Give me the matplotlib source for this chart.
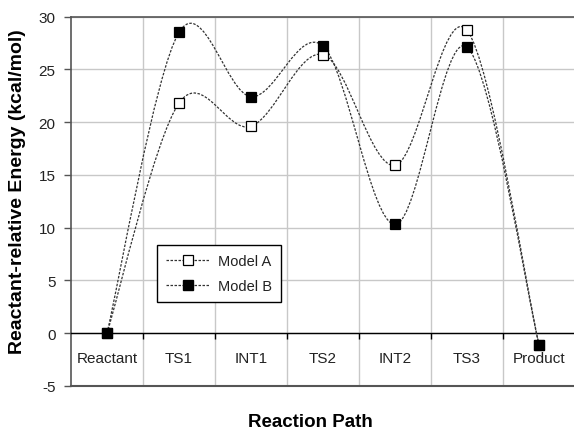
import numpy as np
import matplotlib
matplotlib.use("Agg")
import matplotlib.pyplot as plt
from matplotlib.path import Path
from matplotlib.patches import PathPatch
from matplotlib.lines import Line2D
from matplotlib.ticker import FixedLocator, NullFormatter

plt.rcParams['font.family'] = ['Liberation Sans', 'DejaVu Sans']

# Reaction coordinate and energies (kcal/mol, relative to reactant)
stages = ["Reactant", "TS1", "INT1", "TS2", "INT2", "TS3", "Product"]
model_a = [0.0, 21.8, 19.6, 26.4, 15.9, 28.7, -1.1]
model_b = [0.0, 28.5, 22.4, 27.2, 10.3, 27.1, -1.1]
y_ticks = [-5, 0, 5, 10, 15, 20, 25, 30]

LINE_COLOR = "#333333"
GRID_COLOR = "#c8c8c8"
FRAME_COLOR = "#555555"
TEXT_COLOR = "#222222"


def smooth_path(xs, ys):
    """Cubic Bezier through every point, with Catmull-Rom style tangents."""
    pts = np.column_stack([xs, ys]).astype(float)
    n = len(pts)
    verts = [pts[0]]
    codes = [Path.MOVETO]
    for i in range(n - 1):
        p_prev = pts[i - 1] if i > 0 else pts[i]
        p_next2 = pts[i + 2] if i + 2 < n else pts[i + 1]
        c1 = pts[i] + (pts[i + 1] - p_prev) / 6.0
        c2 = pts[i + 1] - (p_next2 - pts[i]) / 6.0
        verts += [c1, c2, pts[i + 1]]
        codes += [Path.CURVE4] * 3
    return Path(verts, codes)


fig = plt.figure(figsize=(5.74, 4.31), dpi=100)
ax = fig.add_axes([71 / 574, 44 / 431, 504 / 574, 369.5 / 431])

x = np.arange(len(stages))
ax.set_xlim(-0.5, len(stages) - 0.5)
ax.set_ylim(-5, 30)

# grid: horizontal at every 5, vertical at the category boundaries
for yv in y_ticks:
    ax.axhline(yv, color=GRID_COLOR, lw=1.0, zorder=0)
for xb in np.arange(0.5, len(stages) - 0.5, 1.0):
    ax.axvline(xb, color=GRID_COLOR, lw=1.0, zorder=0)

dash = (0, (2.0, 1.2))
for vals in (model_a, model_b):
    patch = PathPatch(smooth_path(x, vals), facecolor="none", edgecolor=LINE_COLOR,
                      lw=0.9, linestyle=dash, zorder=3)
    ax.add_patch(patch)

ax.plot(x, model_a, linestyle="none", marker="s", markersize=7.2,
        markerfacecolor="white", markeredgecolor="black", markeredgewidth=0.9, zorder=4)
ax.plot(x, model_b, linestyle="none", marker="s", markersize=7.6,
        markerfacecolor="black", markeredgecolor="black", markeredgewidth=0.9, zorder=5)

# frame
ax.spines['right'].set_visible(False)
ax.spines['top'].set_color(FRAME_COLOR)
ax.spines['left'].set_color(FRAME_COLOR)
ax.spines['top'].set_linewidth(1.2)
ax.spines['left'].set_linewidth(1.2)
ax.spines['bottom'].set_position(('data', 0))
ax.spines['bottom'].set_color("black")
ax.spines['bottom'].set_linewidth(1.0)
ax.axhline(-5, color=FRAME_COLOR, lw=1.5, zorder=6, clip_on=False)

# category axis crossing at zero
ax.xaxis.set_major_locator(FixedLocator(x))
ax.set_xticklabels(stages, fontsize=11, color=TEXT_COLOR)
ax.tick_params(axis='x', which='major', length=0, pad=13)
ax.xaxis.set_minor_locator(FixedLocator(np.arange(0.5, len(stages) - 0.5, 1.0)))
ax.xaxis.set_minor_formatter(NullFormatter())
ax.tick_params(axis='x', which='minor', direction='out', length=4, width=1.0, color="black")

ax.set_yticks(y_ticks)
ax.set_yticklabels([str(v) for v in y_ticks], fontsize=11, color=TEXT_COLOR)
ax.tick_params(axis='y', direction='out', length=5, width=1.0, color=FRAME_COLOR, pad=6)

fig.text(18 / 574, 1 - 192 / 431, "Reactant-relative Energy (kcal/mol)", rotation=90,
         ha="center", va="center", fontsize=14, fontweight="bold", color="black")
fig.text(310 / 574, 1 - 423 / 431, "Reaction Path", ha="center", va="center",
         fontsize=13.5, fontweight="bold", color="black")

handles = [
    Line2D([], [], color=LINE_COLOR, lw=0.9, linestyle=dash, marker="s", markersize=7,
           markerfacecolor="white", markeredgecolor="black", markeredgewidth=0.9),
    Line2D([], [], color=LINE_COLOR, lw=0.9, linestyle=dash, marker="s", markersize=7.4,
           markerfacecolor="black", markeredgecolor="black"),
]
leg = ax.legend(handles, ["Model A", "Model B"], loc="upper left",
                bbox_to_anchor=((157 - 71) / 504, (387 - 246) / 369.5),
                fontsize=10.5, frameon=True, fancybox=False, framealpha=1,
                edgecolor="black", borderpad=0.65, handlelength=3.0,
                handletextpad=0.5, labelspacing=0.7, borderaxespad=0)
leg.get_frame().set_linewidth(1.0)
for t in leg.get_texts():
    t.set_color(TEXT_COLOR)

fig.savefig("out.png", dpi=100)
